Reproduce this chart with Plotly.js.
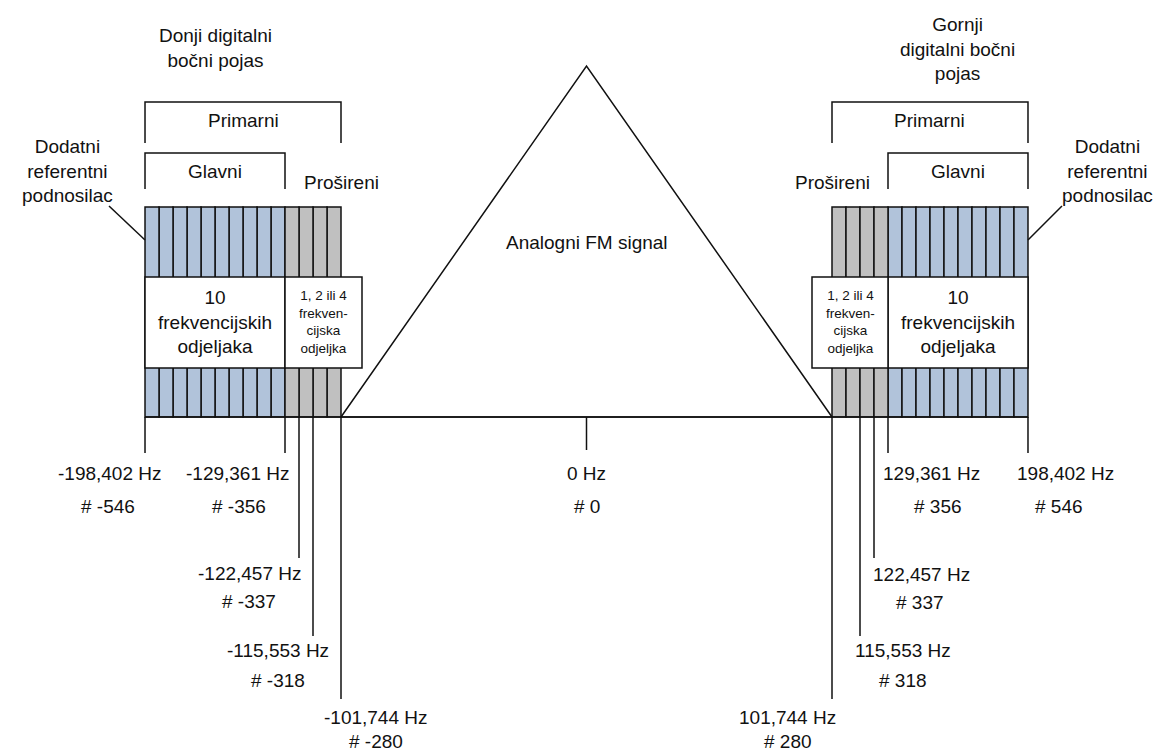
<!DOCTYPE html>
<html><head><meta charset="utf-8">
<script src="https://cdn.plot.ly/plotly-3.0.1.min.js"></script>
<style>html,body{margin:0;padding:0;background:#fff}#chart{width:1166px;height:753px}</style>
</head><body><div id="chart"></div>
<script>
// ---------- data ----------
const markerIndex = [-546, -356, -337, -318, -280, 0, 280, 318, 337, 356, 546];
const markerFreq = ['-198,402 Hz', '-129,361 Hz', '-122,457 Hz', '-115,553 Hz', '-101,744 Hz', '0 Hz',
                    '101,744 Hz', '115,553 Hz', '122,457 Hz', '129,361 Hz', '198,402 Hz'];
const markerNum = ['# -546', '# -356', '# -337', '# -318', '# -280', '# 0',
                   '# 280', '# 318', '# 337', '# 356', '# 546'];
const mainPartitions = 10;
const extPartitions = 4;
const subcarriersPerPartition = 19;
const referenceEdge = 546;   // outer edge (additional reference subcarrier)
const mainInner = 356;       // inner edge of primary main
const analogEdge = 280;      // inner edge of primary extended
const sideNames = {lower: 'Donji digitalni<br>bočni pojas', upper: 'Gornji<br>digitalni bočni<br>pojas'};

// ---------- schematic layout (styles / positions) ----------
const CX = 586.5;            // pixel of 0 Hz
const ANALOG_HALF = 245.5;   // schematic half-width of analog region
const SC_W = 0.7368;         // schematic width per subcarrier in sidebands
function pos(i) {
  const s = Math.sign(i), a = Math.abs(i);
  if (a >= analogEdge) return s * (ANALOG_HALF + (a - analogEdge) * SC_W);
  return i * ANALOG_HALF / analogEdge;
}
const BAND_TOP = 210, BOX_TOP = 140, BOX_BOT = 49, APEX = 351;
const tickLen = [36, 36, 141, 219, 282, 33, 282, 219, 141, 36, 36];
const hzY   = [-56, -56, -156, -233, -300, -56, -300, -233, -157, -56, -56];
const numY  = [-89, -89, -184, -263, -324, -89, -324, -263, -185, -89, -89];
const labShift = [-35, -47, -49, -35, 35, 0, -45, 43, 47, 43, 38];
const numShift = [-37, -46, -50, -35, 35, 0, -44, 43, 46, 50, 31];

const BLUE = '#b1c3da', GREY = '#c0c0c0', INK = '#111111';
const FONT = 'Liberation Sans, Arial, sans-serif';

// ---------- cells (bars) ----------
const traces = [];
function cells(sign) {
  const xs = [], ws = [], cs = [];
  for (let k = 0; k < mainPartitions; k++) {
    const a = mainInner + k * subcarriersPerPartition, b = a + subcarriersPerPartition;
    const p1 = pos(sign * a), p2 = pos(sign * b);
    xs.push((p1 + p2) / 2); ws.push(Math.abs(p2 - p1)); cs.push(BLUE);
  }
  for (let k = 0; k < extPartitions; k++) {
    const a = analogEdge + k * subcarriersPerPartition, b = a + subcarriersPerPartition;
    const p1 = pos(sign * a), p2 = pos(sign * b);
    xs.push((p1 + p2) / 2); ws.push(Math.abs(p2 - p1)); cs.push(GREY);
  }
  return {type: 'bar', x: xs, y: xs.map(() => BAND_TOP), base: 0, width: ws,
          marker: {color: cs, line: {color: INK, width: 1.5}}, hoverinfo: 'skip', showlegend: false};
}
traces.push(cells(-1), cells(1));
// analog FM triangle
traces.push({type: 'scatter', mode: 'lines', x: [pos(-analogEdge), 0, pos(analogEdge), pos(-analogEdge)],
  y: [0, APEX, 0, 0], fill: 'toself', fillcolor: '#ffffff', line: {color: INK, width: 1.5},
  hoverinfo: 'skip', showlegend: false});

// ---------- shapes ----------
const shapes = [];
const L = (x0, y0, x1, y1) => shapes.push({type: 'line', xref: 'x', yref: 'y', x0, y0, x1, y1, line: {color: INK, width: 1.5}, layer: 'above'});
function box(x0, x1) {
  shapes.push({type: 'rect', xref: 'x', yref: 'y', x0, x1, y0: BOX_BOT, y1: BOX_TOP,
    fillcolor: '#ffffff', line: {color: INK, width: 1.5}, layer: 'above'});
}
box(pos(-referenceEdge), pos(-mainInner));
box(pos(-mainInner), pos(-analogEdge) + 21);
box(pos(mainInner), pos(referenceEdge));
box(pos(analogEdge) - 20, pos(mainInner));
// baseline
L(pos(-referenceEdge), 0, pos(referenceEdge), 0);
// ticks
markerIndex.forEach((m, i) => L(pos(m), 0, pos(m), -tickLen[i]));
// brackets
function bracket(a, b, top, bottom) {
  shapes.push({type: 'path', xref: 'x', yref: 'y',
    path: `M ${a},${bottom} L ${a},${top} L ${b},${top} L ${b},${bottom}`,
    line: {color: INK, width: 1.5}, layer: 'above'});
}
bracket(pos(-referenceEdge), pos(-analogEdge), 315, 274);
bracket(pos(-referenceEdge), pos(-mainInner), 264, 228);
bracket(pos(analogEdge), pos(referenceEdge), 315, 274);
bracket(pos(mainInner), pos(referenceEdge), 264, 228);
// reference subcarrier pointers
L(pos(-referenceEdge), 177, pos(-referenceEdge) - 36, 211);
L(pos(referenceEdge), 177, pos(referenceEdge) + 34, 211);

// ---------- annotations ----------
const ann = [];
const T = (x, y, text, size, extra) => ann.push(Object.assign({x, y, xref: 'x', yref: 'y', text, showarrow: false,
  xanchor: 'center', yanchor: 'middle', align: 'center', font: {family: FONT, size: size || 19, color: INK}}, extra || {}));
markerIndex.forEach((m, i) => {
  T(pos(m), hzY[i], markerFreq[i], 19, {xshift: labShift[i]});
  T(pos(m), numY[i], markerNum[i], 19, {xshift: numShift[i]});
});
const gl = (pos(-referenceEdge) + pos(-mainInner)) / 2, gr = (pos(referenceEdge) + pos(mainInner)) / 2;
T(gl, 369, sideNames.lower);
T(gr, 368, sideNames.upper);
T((pos(-referenceEdge) + pos(-analogEdge)) / 2, 297, 'Primarni');
T((pos(referenceEdge) + pos(analogEdge)) / 2, 297, 'Primarni');
T(gl, 246, 'Glavni');
T(gr, 246, 'Glavni');
T(pos(-analogEdge), 235, 'Prošireni');
T(pos(analogEdge), 235, 'Prošireni');
T(pos(-referenceEdge) - 78, 246, 'Dodatni<br>referentni<br>podnosilac');
T(pos(referenceEdge) + 80, 246, 'Dodatni<br>referentni<br>podnosilac');
T(0, 175, 'Analogni FM signal');
T(gl, 95, '10<br>frekvencijskih<br>odjeljaka');
T(gr, 95, '10<br>frekvencijskih<br>odjeljaka');
T((pos(-mainInner) + pos(-analogEdge) + 21) / 2, 95, '1, 2 ili 4<br>frekven-<br>cijska<br>odjeljka', 13.5);
T((pos(mainInner) + pos(analogEdge) - 20) / 2, 95, '1, 2 ili 4<br>frekven-<br>cijska<br>odjeljka', 13.5);

const layout = {
  width: 1166, height: 753, margin: {l: 0, r: 0, t: 0, b: 0},
  paper_bgcolor: '#ffffff', plot_bgcolor: '#ffffff', showlegend: false, barmode: 'overlay',
  xaxis: {range: [-CX, 1166 - CX], visible: false, fixedrange: true},
  yaxis: {range: [417 - 753, 417], visible: false, fixedrange: true},
  shapes, annotations: ann
};
Plotly.newPlot('chart', traces, layout, {staticPlot: true});
</script>
</body></html>
